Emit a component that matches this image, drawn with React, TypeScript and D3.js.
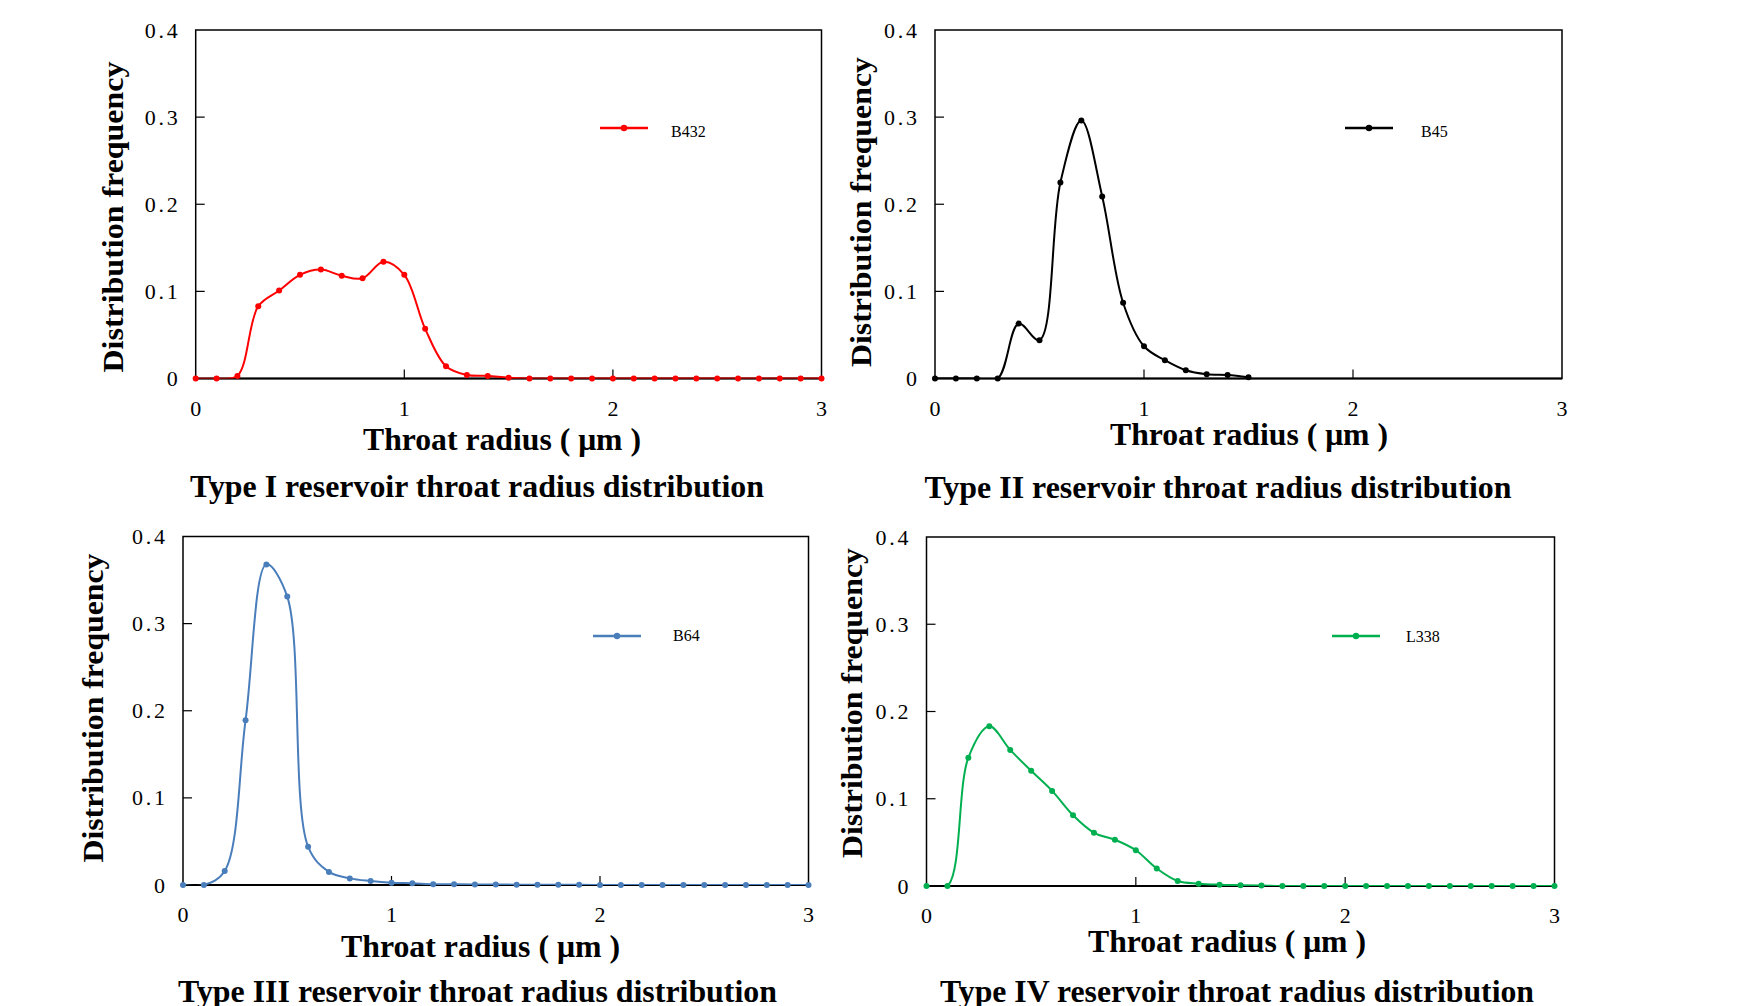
import React from "react";
import * as d3 from "d3";

// ---- Data ----
const radii = [0, 0.1, 0.2, 0.3, 0.4, 0.5, 0.6, 0.7, 0.8, 0.9, 1.0, 1.1, 1.2, 1.3, 1.4, 1.5, 1.6, 1.7, 1.8, 1.9, 2.0, 2.1, 2.2, 2.3, 2.4, 2.5, 2.6, 2.7, 2.8, 2.9, 3.0];

const b432 = [0, 0, 0.003, 0.083, 0.101, 0.119, 0.125, 0.118, 0.115, 0.134, 0.119, 0.057, 0.014, 0.004, 0.003, 0.001, 0, 0, 0, 0, 0, 0, 0, 0, 0, 0, 0, 0, 0, 0, 0];
const b45 = [0, 0, 0, 0, 0.063, 0.044, 0.225, 0.296, 0.209, 0.087, 0.037, 0.021, 0.0095, 0.005, 0.004, 0.0015];
const b64 = [0, 0, 0.016, 0.189, 0.368, 0.331, 0.044, 0.015, 0.0076, 0.0046, 0.0027, 0.002, 0.001, 0.0008, 0.0006, 0.0005, 0.0004, 0.0003, 0.0002, 0.0002, 0.0001, 0, 0, 0, 0, 0, 0, 0, 0, 0, 0];
const l338 = [0, 0, 0.147, 0.183, 0.156, 0.132, 0.109, 0.081, 0.061, 0.053, 0.041, 0.020, 0.0057, 0.0027, 0.0015, 0.001, 0.0005, 0, 0, 0, 0, 0, 0, 0, 0, 0, 0, 0, 0, 0, 0];

const seriesNames = ["B432", "B45", "B64", "L338"];
const panelTitles = [
  "Type I reservoir throat radius distribution",
  "Type II reservoir throat radius distribution",
  "Type III reservoir throat radius distribution",
  "Type IV reservoir throat radius distribution",
];
const yTicks = [0, 0.1, 0.2, 0.3, 0.4];
const yTickLabels = ["0", "0.1", "0.2", "0.3", "0.4"];
const xTicks = [0, 1, 2, 3];
const xTickLabels = ["0", "1", "2", "3"];
const xAxisTitle = "Throat radius ( μm )";
const yAxisTitle = "Distribution frequency";

const seriesValues = [b432, b45, b64, l338];
const seriesColors = ["#ff0000", "#000000", "#4a7ebb", "#00b050"];

// ---- Layout ----
const layouts = [
  { left: 195.7, right: 821.5, top: 30, bottom: 378.5, legX: 600, legY: 128, legTX: 671, legTY: 137, yTX: 123, yTY: 217, yTL: 311, xTX: 502, xTY: 450, xTL: 278, tX: 477, tY: 497, tL: 574 },
  { left: 935, right: 1562, top: 30, bottom: 378.5, legX: 1345, legY: 128, legTX: 1421, legTY: 137, yTX: 871, yTY: 212, yTL: 310, xTX: 1249, xTY: 445, xTL: 278, tX: 1218, tY: 498, tL: 587 },
  { left: 183, right: 808.5, top: 536.5, bottom: 885, legX: 593, legY: 636, legTX: 673, legTY: 641, yTX: 103, yTY: 708, yTL: 309, xTX: 480.5, xTY: 957, xTL: 279, tX: 477.5, tY: 1002, tL: 599 },
  { left: 926.5, right: 1554.5, top: 537, bottom: 886, legX: 1332, legY: 636, legTX: 1406, legTY: 642, yTX: 862, yTY: 703, yTL: 310, xTX: 1227, xTY: 952, xTL: 278, tX: 1237, tY: 1002, tL: 594 },
];

const FONT = "'Liberation Serif', 'Times New Roman', serif";

function Panel({ idx }: { idx: number }) {
  const L = layouts[idx];
  const values = seriesValues[idx];
  const color = seriesColors[idx];
  const x = d3.scaleLinear().domain([0, 3]).range([L.left, L.right]);
  const y = d3.scaleLinear().domain([0, 0.4]).range([L.bottom, L.top]);
  const pts = values.map((v, i) => [radii[i], v] as [number, number]);
  const line = d3
    .line<[number, number]>()
    .x((d) => x(d[0]))
    .y((d) => y(d[1]))
    .curve(d3.curveCatmullRom.alpha(0.5));
  const tickLen = 9;
  const clipId = "clip" + idx;
  return (
    <g>
      <defs>
        <clipPath id={clipId}>
          <rect x={L.left - 5} y={L.top - 20} width={L.right - L.left + 10} height={L.bottom - L.top + 20} />
        </clipPath>
      </defs>
      {/* frame */}
      <rect x={L.left} y={L.top} width={L.right - L.left} height={L.bottom - L.top} fill="none" stroke="#000" strokeWidth={1.5} />
      <line x1={L.left} x2={L.right} y1={L.bottom} y2={L.bottom} stroke="#000" strokeWidth={2} />
      {/* y ticks */}
      {yTicks.map((t, i) => (
        <g key={"y" + i}>
          {i > 0 && i < yTicks.length - 1 && (
            <line x1={L.left} x2={L.left + tickLen} y1={y(t)} y2={y(t)} stroke="#000" strokeWidth={1.2} />
          )}
          <text
            x={L.left - 18}
            y={y(t) + 7.5}
            textAnchor="end"
            fontFamily={FONT}
            fontSize={22}
            {...(yTickLabels[i].length > 1 ? { textLength: 33 } : {})}
          >
            {yTickLabels[i]}
          </text>
        </g>
      ))}
      {/* x ticks */}
      {xTicks.map((t, i) => (
        <g key={"x" + i}>
          {i > 0 && i < xTicks.length - 1 && (
            <line x1={x(t)} x2={x(t)} y1={L.bottom} y2={L.bottom - tickLen} stroke="#000" strokeWidth={1.2} />
          )}
          <text x={x(t)} y={L.bottom + 37} textAnchor="middle" fontFamily={FONT} fontSize={22}>
            {xTickLabels[i]}
          </text>
        </g>
      ))}
      {/* series */}
      <path d={line(pts) || ""} fill="none" stroke={color} strokeWidth={2} clipPath={`url(#${clipId})`} />
      {pts.map((p, i) => (
        <circle key={i} cx={x(p[0])} cy={y(p[1])} r={3} fill={color} />
      ))}
      {/* legend */}
      <line x1={L.legX} x2={L.legX + 48} y1={L.legY} y2={L.legY} stroke={color} strokeWidth={2.5} />
      <circle cx={L.legX + 24} cy={L.legY} r={3.2} fill={color} />
      <text x={L.legTX} y={L.legTY} fontFamily={FONT} fontSize={16}>
        {seriesNames[idx]}
      </text>
      {/* axis titles */}
      <text
        x={L.xTX}
        y={L.xTY}
        textAnchor="middle"
        fontFamily={FONT}
        fontWeight="bold"
        fontSize={31}
        textLength={L.xTL}
        lengthAdjust="spacingAndGlyphs"
      >
        {xAxisTitle}
      </text>
      <text
        transform={`translate(${L.yTX},${L.yTY}) rotate(-90)`}
        textAnchor="middle"
        fontFamily={FONT}
        fontWeight="bold"
        fontSize={30}
        textLength={L.yTL}
        lengthAdjust="spacingAndGlyphs"
      >
        {yAxisTitle}
      </text>
      {/* panel title */}
      <text
        x={L.tX}
        y={L.tY}
        textAnchor="middle"
        fontFamily={FONT}
        fontWeight="bold"
        fontSize={32}
        textLength={L.tL}
        lengthAdjust="spacingAndGlyphs"
      >
        {panelTitles[idx]}
      </text>
    </g>
  );
}

export default function App() {
  return (
    <svg
      width={1741}
      height={1006}
      style={{ position: "absolute", left: 0, top: 0, background: "#fff" }}
    >
      <rect x={0} y={0} width={1741} height={1006} fill="#fff" />
      {[0, 1, 2, 3].map((i) => (
        <Panel key={i} idx={i} />
      ))}
    </svg>
  );
}
